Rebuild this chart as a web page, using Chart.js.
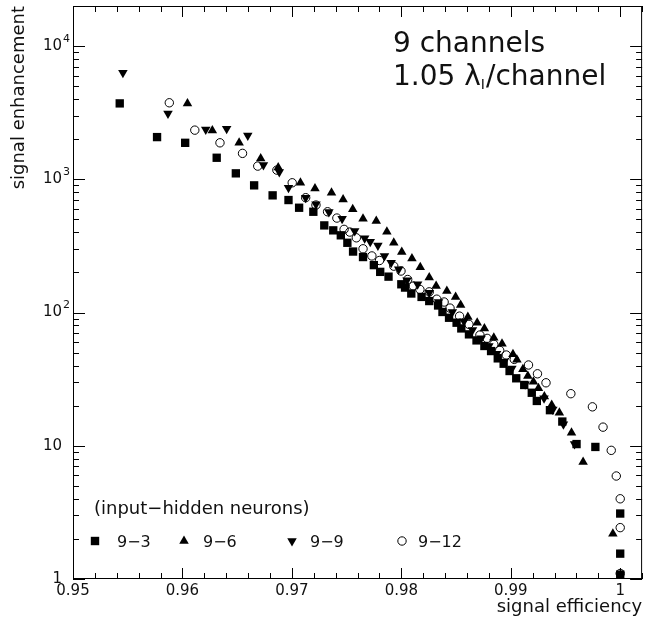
<!DOCTYPE html>
<html>
<head>
<meta charset="utf-8">
<style>
html,body{margin:0;padding:0;background:#fff;}
#wrap{width:648px;height:628px;position:relative;}
</style>
<script src="https://cdn.jsdelivr.net/npm/chart.js@4.4.0/dist/chart.umd.min.js"></script>
</head>
<body>
<div id="wrap"><canvas id="c" width="648" height="628"></canvas></div>
<script>
// ---- data ----
const seriesLabels = ['9\u22123', '9\u22126', '9\u22129', '9\u221212'];

const eff93 = [0.95427,0.95768,0.96025,0.96313,0.96488,0.96655,0.96824,0.96969,0.97066,0.97196,0.97296,0.97378,0.97447,0.97507,0.97559,0.9765,0.97749,0.97807,0.97883,0.98,0.98034,0.98091,0.98185,0.98255,0.98336,0.98376,0.98436,0.98505,0.98548,0.98618,0.98687,0.98759,0.9882,0.98881,0.98935,0.98989,0.9905,0.99123,0.99192,0.99238,0.99358,0.99471,0.99601,0.99773,1.0,1.0,1.0];
const enh93 = [3715,2075,1880,1452,1109,901,758,699,612,571,451,414,380,334,287,261,227,202,186,163,154,139,131,122,113,101,91.4,83.9,76,68.6,61.8,56.1,51.4,45.3,41.3,36.4,32.1,28.6,25,21.7,18.5,15.2,10.3,9.8,3.1,1.55,1.08];

const eff96 = [0.96046,0.96273,0.96518,0.96715,0.96875,0.97078,0.97211,0.97362,0.97468,0.97556,0.9765,0.97771,0.97868,0.97931,0.98004,0.98097,0.98173,0.98255,0.98318,0.98416,0.98496,0.98542,0.98608,0.98693,0.98759,0.98845,0.9892,0.9902,0.99056,0.99111,0.99156,0.99207,0.99253,0.99307,0.99374,0.99444,0.99555,0.99661,0.99933];
const enh96 = [3715,2330,1880,1436,1225,942,855,794,707,595,506,486,404,334,285,255,219,183,158,145,131,114,92.5,84,76,64.7,58.3,48.6,44.3,37.5,33.4,30.3,27,23.4,20.2,17.7,12.5,7.55,2.19];

const eff99 = [0.95456,0.95868,0.96213,0.96404,0.96597,0.9674,0.96885,0.96969,0.97126,0.9722,0.97338,0.97459,0.97574,0.97665,0.97716,0.97786,0.97846,0.97907,0.97976,0.98052,0.98149,0.98255,0.9834,0.98466,0.98572,0.9865,0.9873,0.988,0.9887,0.9894,0.9901,0.99131,0.99304,0.99384,0.99481,0.99583];
const enh99 = [6310,3125,2370,2395,2137,1279,1133,864,728,650,568,506,409,361,340,319,266,237,211,175,163,141,120,101,86,74,64,56,49,43,38,29,22.7,18.7,14.5,10.3];

const eff912 = [0.9588,0.96113,0.96343,0.96549,0.96688,0.96863,0.97003,0.97126,0.9722,0.97326,0.97411,0.97477,0.97529,0.97589,0.9765,0.97731,0.97801,0.97931,0.97997,0.98058,0.9811,0.9817,0.98255,0.98324,0.98391,0.98445,0.98532,0.98618,0.98718,0.98784,0.98845,0.98899,0.98959,0.99032,0.99162,0.99244,0.99322,0.99549,0.99746,0.99843,0.99918,0.99964,1.0,1.0,1.0];
const enh912 = [3755,2340,1880,1566,1257,1173,942,728,641,571,512,421,402,364,301,266,246,223,205,177,158,149,143,126,120,108,94,81.5,67.8,64,57.7,52,48,44.5,40.4,34.7,29.7,24.6,19.6,13.8,9.24,5.93,4.0,2.43,1.1];

const xTickValues = [0.95, 0.96, 0.97, 0.98, 0.99, 1.0];
const xTickLabels = ['0.95', '0.96', '0.97', '0.98', '0.99', '1'];
const yTickValues = [1, 10, 100, 1000, 10000];
const yTickBase = ['1', '10', '10', '10', '10'];
const yTickExp = ['', '', '2', '3', '4'];

const xTitle = 'signal efficiency';
const yTitle = 'signal enhancement';
const note1 = '9 channels';
const note2a = '1.05 \u03bb';
const note2sub = 'I';
const note2b = '/channel';
const legendHeading = '(input\u2212hidden neurons)';

// ---- chart ----
const FONT = '"DejaVu Sans", "Liberation Sans", sans-serif';
const INK = '#111';
const pts = (xs, ys) => xs.map((v, i) => ({x: v, y: ys[i]}));

function drawMarker(ctx, kind, x, y) {
  ctx.save();
  ctx.fillStyle = '#000'; ctx.strokeStyle = '#000'; ctx.lineWidth = 1;
  ctx.beginPath();
  if (kind === 'sq') { ctx.rect(x - 4.2, y - 4.2, 8.4, 8.4); ctx.fill(); }
  else if (kind === 'up') { const r = 5.5; ctx.moveTo(x, y - r); ctx.lineTo(x + r*0.866, y + r/2); ctx.lineTo(x - r*0.866, y + r/2); ctx.closePath(); ctx.fill(); }
  else if (kind === 'dn') { const r = 5.5; ctx.moveTo(x, y + r); ctx.lineTo(x + r*0.866, y - r/2); ctx.lineTo(x - r*0.866, y - r/2); ctx.closePath(); ctx.fill(); }
  else { ctx.arc(x, y, 4.2, 0, Math.PI*2); ctx.stroke(); }
  ctx.restore();
}

const framePlugin = {
  id: 'frame',
  afterDatasetsDraw(chart) {
    const {ctx, chartArea: a, scales: {x, y}} = chart;
    ctx.save();
    ctx.strokeStyle = '#000';
    ctx.lineWidth = 1;
    ctx.strokeRect(a.left + 0.5, a.top + 0.5, a.right - a.left - 1, a.bottom - a.top - 1);
    ctx.beginPath();
    for (let k = 0; k <= 26; k++) {
      const v = 0.95 + k * 0.002;
      const px = Math.round(x.getPixelForValue(v)) + 0.5;
      const len = (k % 5 === 0) ? 11 : 6;
      ctx.moveTo(px, a.bottom); ctx.lineTo(px, a.bottom - len);
      ctx.moveTo(px, a.top); ctx.lineTo(px, a.top + len);
    }
    for (let e = 0; e <= 4; e++) {
      for (let m = 1; m <= 9; m++) {
        const v = m * Math.pow(10, e);
        if (v > 20000) break;
        const py = Math.round(y.getPixelForValue(v)) + 0.5;
        const len = (m === 1) ? 12 : 6;
        ctx.moveTo(a.left, py); ctx.lineTo(a.left + len, py);
        ctx.moveTo(a.right, py); ctx.lineTo(a.right - len, py);
      }
    }
    ctx.stroke();

    ctx.fillStyle = INK;
    // x tick labels
    ctx.font = '15px ' + FONT;
    ctx.textAlign = 'center';
    ctx.textBaseline = 'middle';
    xTickValues.forEach((v, i) => {
      ctx.fillText(xTickLabels[i], x.getPixelForValue(v), a.bottom + 12);
    });
    // y tick labels with superscript exponents
    yTickValues.forEach((v, i) => {
      const py = y.getPixelForValue(v);
      ctx.textAlign = 'right';
      ctx.textBaseline = 'middle';
      ctx.font = '15px ' + FONT;
      ctx.fillText(yTickBase[i], 62, py);
      if (yTickExp[i]) {
        ctx.textAlign = 'left';
        ctx.font = '11px ' + FONT;
        ctx.fillText(yTickExp[i], 63, py - 7);
      }
    });

    // annotation text
    ctx.textBaseline = 'alphabetic';
    ctx.textAlign = 'left';
    ctx.font = '28px ' + FONT;
    ctx.fillText(note1, 393, 52);
    let tx = 393;
    ctx.fillText(note2a, tx, 85);
    tx += ctx.measureText(note2a).width;
    ctx.font = '14px ' + FONT;
    ctx.fillText(note2sub, tx, 89);
    tx += ctx.measureText(note2sub).width + 1;
    ctx.font = '28px ' + FONT;
    ctx.fillText(note2b, tx, 85);

    // legend
    ctx.font = '18px ' + FONT;
    ctx.fillText(legendHeading, 94, 514);
    const kinds = ['sq', 'up', 'dn', 'ci'];
    const mx = [95, 184, 292, 402];
    const lx = [117, 203, 310, 418];
    ctx.font = '16px ' + FONT;
    for (let i = 0; i < 4; i++) {
      drawMarker(ctx, kinds[i], mx[i], 541);
      ctx.fillStyle = INK;
      ctx.fillText(seriesLabels[i], lx[i], 547);
    }
    ctx.restore();
  }
};

new Chart(document.getElementById('c'), {
  type: 'scatter',
  data: {
    datasets: [
      {label: seriesLabels[0], data: pts(eff93, enh93), pointStyle: 'rect', pointRadius: 5.9, backgroundColor: '#000', borderColor: '#000', borderWidth: 0, order: 3},
      {label: seriesLabels[1], data: pts(eff96, enh96), pointStyle: 'triangle', pointRadius: 5.5, backgroundColor: '#000', borderColor: '#000', borderWidth: 0, order: 2},
      {label: seriesLabels[2], data: pts(eff99, enh99), pointStyle: 'triangle', rotation: 180, pointRadius: 5.5, backgroundColor: '#000', borderColor: '#000', borderWidth: 0, order: 1},
      {label: seriesLabels[3], data: pts(eff912, enh912), pointStyle: 'circle', pointRadius: 4.2, backgroundColor: 'rgba(0,0,0,0)', borderColor: '#000', borderWidth: 1, order: 0}
    ]
  },
  options: {
    responsive: false,
    animation: false,
    devicePixelRatio: 1,
    layout: {padding: {top: 6, right: 2, left: 0, bottom: 0}},
    plugins: {legend: {display: false}, tooltip: {enabled: false}},
    scales: {
      x: {
        type: 'linear', min: 0.95, max: 1.002, position: 'bottom',
        grid: {display: false, drawTicks: false},
        border: {display: false},
        afterBuildTicks: s => { s.ticks = xTickValues.map(v => ({value: v})); },
        afterFit: s => { s.height = 49; },
        ticks: {display: false},
        title: {display: true, text: xTitle, align: 'end', color: INK, font: {family: FONT, size: 18, lineHeight: 1}, padding: {top: 0, bottom: 12}}
      },
      y: {
        type: 'logarithmic', min: 1, max: 20000, position: 'left',
        grid: {display: false, drawTicks: false},
        border: {display: false},
        afterBuildTicks: s => { s.ticks = yTickValues.map(v => ({value: v})); },
        afterFit: s => { s.width = 73; },
        ticks: {display: false},
        title: {display: true, text: yTitle, align: 'end', color: INK, font: {family: FONT, size: 18, lineHeight: 1}, padding: {top: 10, bottom: 0}}
      }
    }
  },
  plugins: [framePlugin]
});
</script>
</body>
</html>
